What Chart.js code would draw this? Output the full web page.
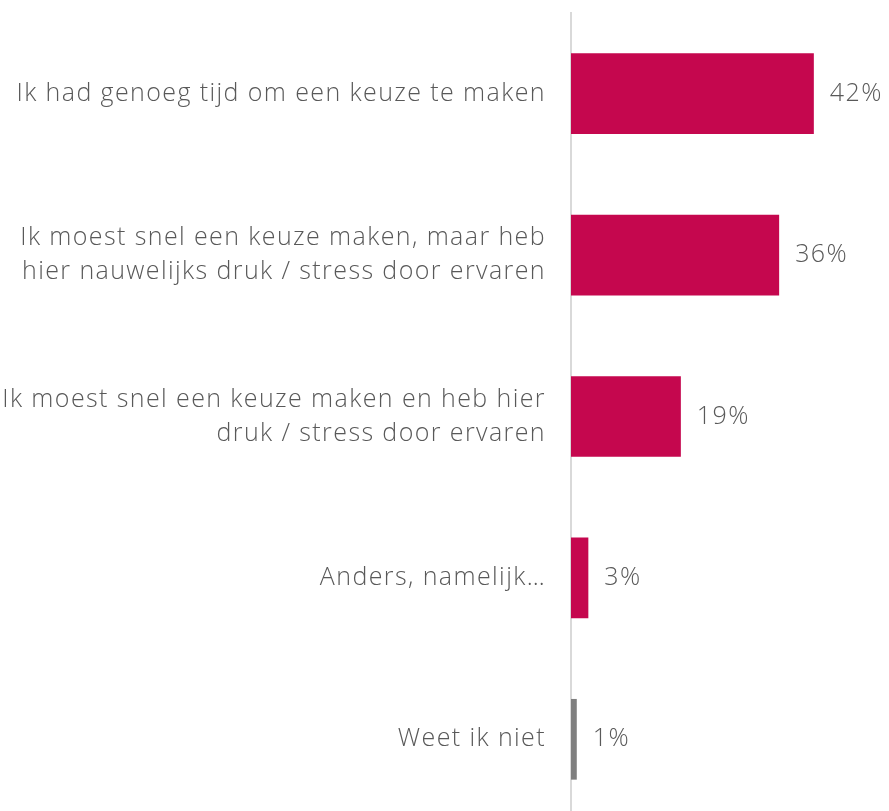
<!DOCTYPE html>
<html lang="nl">
<head>
    <meta charset="UTF-8">
    <title>Keuze tijd</title>
    <script src="https://cdn.jsdelivr.net/npm/chart.js"></script>
    <style>
        html, body {
            margin: 0;
            padding: 0;
            background: #fff;
            overflow: hidden;
        }
        .wrap {
            width: 889px;
            height: 811px;
            overflow: hidden;
        }
        .box {
            width: 889px;
            height: 820px;
        }
    </style>
</head>
<body>
<div class="wrap"><div class="box"><canvas id="chart"></canvas></div></div>

<script>
    // chart data
    const categories = [
        ['Ik had genoeg tijd om een keuze te maken'],
        ['Ik moest snel een keuze maken, maar heb', 'hier nauwelijks druk / stress door ervaren'],
        ['Ik moest snel een keuze maken en heb hier', 'druk / stress door ervaren'],
        ['Anders, namelijk…'],
        ['Weet ik niet']
    ];
    const values = [42, 36, 19, 3, 1];
    const barColors = ['#c5074e', '#c5074e', '#c5074e', '#c5074e', '#7f7f7f'];

    const textColor = '#595959';
    const fontFamily = '"Open Sans", Lato, sans-serif';
    const spacing = '1.4px';

    // wider letter spacing to get closer to the original font
    const wideText = {
        id: 'wideText',
        beforeUpdate(chart) { chart.ctx.letterSpacing = spacing; },
        beforeDraw(chart) { chart.ctx.letterSpacing = spacing; }
    };

    // draws the percentage next to each bar
    const valueLabels = {
        id: 'valueLabels',
        afterDatasetsDraw(chart) {
            const ctx = chart.ctx;
            const meta = chart.getDatasetMeta(0);
            ctx.save();
            ctx.font = '300 25px ' + fontFamily;
            ctx.fillStyle = textColor;
            ctx.textAlign = 'left';
            ctx.textBaseline = 'middle';
            meta.data.forEach((bar, i) => {
                ctx.fillText(values[i] + '%', bar.x + 16, bar.y);
            });
            ctx.restore();
        }
    };

    new Chart(document.getElementById('chart'), {
        type: 'bar',
        data: {
            labels: categories,
            datasets: [{
                data: values,
                backgroundColor: barColors,
                barPercentage: 0.5,
                categoryPercentage: 1.0
            }]
        },
        options: {
            indexAxis: 'y',
            responsive: true,
            maintainAspectRatio: false,
            animation: false,
            layout: { padding: { top: 13, right: 0, bottom: 0, left: 0 } },
            plugins: {
                legend: { display: false },
                tooltip: { enabled: false }
            },
            scales: {
                x: {
                    min: 0,
                    max: 55,
                    display: false
                },
                y: {
                    grid: { display: false, drawTicks: false },
                    border: { display: true, color: '#d9d9d9', width: 2 },
                    ticks: {
                        color: textColor,
                        padding: 25,
                        font: { family: fontFamily, size: 25, weight: '300', lineHeight: 1.36 }
                    },
                    afterFit(scale) {
                        scale.width = 571;
                        // no extra room for the first/last label
                        scale.paddingTop = 0;
                        scale.paddingBottom = 0;
                    }
                }
            }
        },
        plugins: [wideText, valueLabels]
    });
</script>
</body>
</html>
